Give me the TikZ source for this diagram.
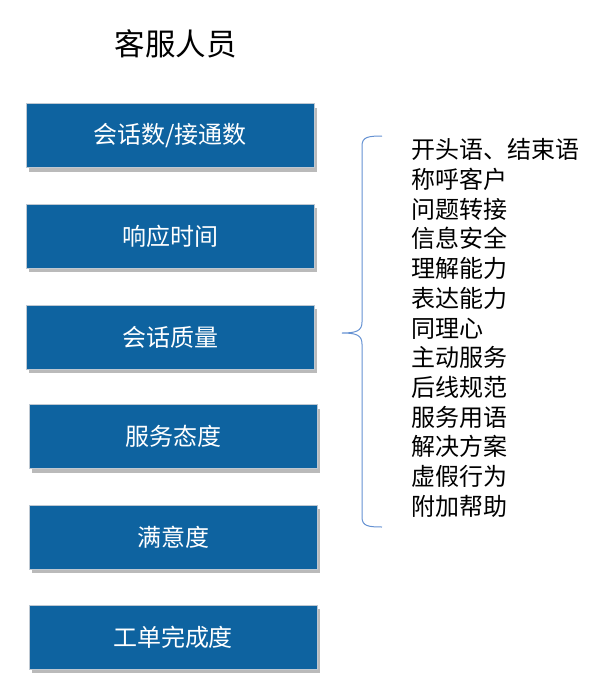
\documentclass[tikz,border=0pt]{standalone}
\usepackage{fontspec}
\newfontfamily\cjk{Noto Sans CJK SC}
\usetikzlibrary{shadows}
\definecolor{boxblue}{RGB}{14,99,160}
\definecolor{boxedge}{RGB}{190,200,210}
\definecolor{bracecol}{RGB}{100,145,210}
\tikzset{
  metric/.style={draw=boxedge, line width=0.8pt, fill=boxblue, text=white,
    minimum width=288pt, minimum height=64pt, inner sep=0pt,
    font=\cjk\fontsize{24}{28}\selectfont,
    drop shadow={shadow xshift=3pt, shadow yshift=-4pt, fill=black!45, opacity=0.6}},
  listtext/.style={anchor=north west, align=left, inner sep=0pt,
    font=\cjk\fontsize{24}{29.7}\selectfont},
  titletext/.style={font=\cjk\fontsize{30.5}{35}\selectfont}
}
\begin{document}
\begin{tikzpicture}[x=1pt,y=-1pt]
\useasboundingbox (0,0) rectangle (600,697);
\node[titletext] (title) at (175.5,44) {客服人员};
\node[metric] (b1) at (170,135.5) {会话数/接通数};
\node[metric] (b2) at (170,236) {响应时间};
\node[metric] (b3) at (170,337) {会话质量};
\node[metric] (b4) at (173,436.5) {服务态度};
\node[metric] (b5) at (173,537) {满意度};
\node[metric] (b6) at (173,637) {工单完成度};
\coordinate (bt) at (382,136);
\coordinate (bb) at (382,527);
\coordinate (tip) at (342,333);
\draw[bracecol, line width=1pt]
  (bt) .. controls (368,136) and (362,137) .. (362,146)
  -- (362,322) .. controls (362,331) and (356,333) .. (tip)
  .. controls (356,333) and (362,335) .. (362,344)
  -- (362,517) .. controls (362,526) and (368,527) .. (bb);
\node[listtext] (list) at (411,138.5) {开头语、结束语\\称呼客户\\问题转接\\信息安全\\理解能力\\表达能力\\同理心\\主动服务\\后线规范\\服务用语\\解决方案\\虚假行为\\附加帮助};
\end{tikzpicture}
\end{document}
